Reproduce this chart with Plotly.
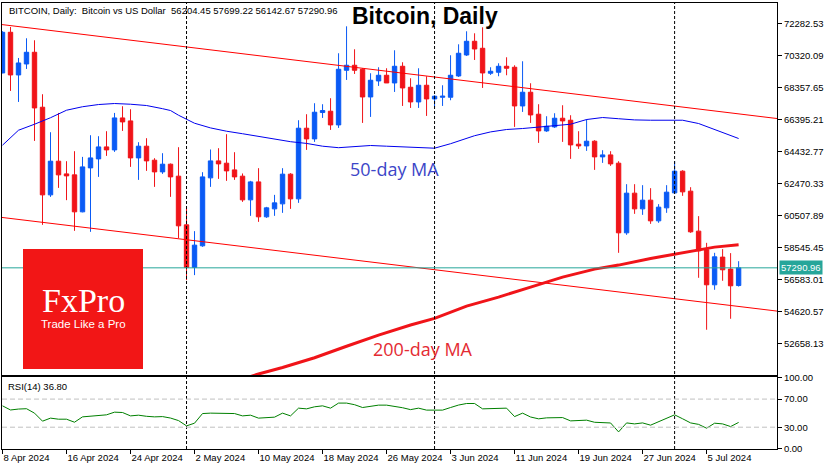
import plotly.graph_objects as go
import pandas as pd

# daily bars 8 Apr 2024 .. 9 Jul 2024 (crypto trades every day)
dates = pd.date_range("2024-04-08", periods=93, freq="D")

opens = [69253, 71749, 69130, 69804, 70522, 67149, 61770, 63837, 63058, 62997,
         60728, 63426, 63978, 64714, 64530, 66492, 66309, 64039, 64757, 63898,
         63181, 63653, 62917, 59930, 57318, 58642, 62813, 63855, 63714, 63303,
         62917, 61463, 62567, 60421, 60911, 61218, 63040, 61525, 65861, 65205,
         66824, 66903, 66063, 69418, 69725, 69479, 67780, 68762, 69111, 68639,
         69663, 68375, 67474, 68498, 67658, 67762, 67762, 69068, 70356, 71197,
         70767, 69234, 69295, 69663, 69602, 67228, 68069, 66719, 65695, 65940,
         66474, 66351, 64879, 64775, 65063, 64101, 64223, 63714, 59440, 61874,
         60911, 61445, 60175, 60973, 61893, 63224, 61997, 59544, 58397, 56250,
         57949, 57213, 56204.45]
highs = [71810, 72074, 70172, 71381, 71258, 67946, 65615, 66799, 63837, 64450,
         64101, 65431, 65370, 65677, 66799, 67210, 67026, 65002, 65247, 64021,
         64328, 63696, 64695, 61034, 59544, 63162, 64555, 64634, 65493, 64389,
         63083, 62629, 63408, 61034, 61770, 63408, 63101, 66351, 66719, 67394,
         67333, 67701, 70461, 72116, 70706, 69541, 69234, 69602, 69541, 70645,
         69909, 68927, 69541, 69050, 67885, 68498, 70338, 71012, 71810, 71687,
         72055, 69602, 69847, 70215, 69725, 69970, 68621, 67333, 66597, 66781,
         67271, 66658, 65677, 66413, 65125, 64511, 64450, 63837, 62426, 62426,
         62365, 62181, 61200, 62365, 63837, 63285, 62242, 60464, 58826, 58213,
         58440, 58195, 57699.22]
lows = [69234, 68149, 67474, 69498, 65082, 59930, 61647, 62199, 61445, 59562,
        60700, 59501, 62874, 64162, 64407, 65695, 63487, 62690, 63242, 62261,
        63058, 61647, 59114, 56539, 56845, 58581, 62261, 62751, 62629, 62690,
        61341, 60482, 60114, 60359, 60482, 60666, 60911, 61279, 64530, 65021,
        66492, 65757, 65879, 68823, 69191, 66186, 66554, 68455, 68639, 68087,
        67228, 67106, 67106, 66615, 67167, 67228, 67578, 69007, 70295, 70050,
        68332, 69130, 69050, 69111, 65940, 66860, 66186, 64959, 65634, 65879,
        65021, 63978, 64591, 64469, 63303, 63733, 63549, 58213, 59317, 60605,
        60543, 59991, 60053, 60666, 61831, 61709, 59440, 56680, 53491, 55944,
        56496, 54165, 56142.67]
closes = [71749, 69130, 69866, 70522, 67106, 61770, 63837, 62997, 62935, 60728,
          63487, 64039, 64714, 64530, 66492, 66247, 64039, 64757, 63855, 63181,
          63653, 62874, 59869, 57318, 58685, 62874, 63855, 63671, 63242, 62874,
          61463, 62567, 60421, 60973, 61279, 63040, 61525, 65861, 65205, 66842,
          66946, 66063, 69479, 69725, 69418, 67780, 68805, 69111, 68639, 69663,
          68332, 67474, 68498, 67658, 67823, 67823, 69111, 70461, 71197, 70724,
          69253, 69357, 69663, 69541, 67228, 68069, 66676, 65695, 65983, 66474,
          66309, 64837, 64775, 65063, 64101, 64223, 63671, 59440, 61874, 60911,
          61445, 60175, 61016, 61936, 63224, 61954, 59501, 58336, 56250, 57968,
          57170, 56189, 57290.96]

rsi14 = [60.4, 54.5, 55.8, 56.3, 50.0, 38.6, 42.9, 41.4, 41.4, 37.1,
         44.7, 46.0, 47.1, 47.6, 51.4, 50.9, 46.1, 47.1, 45.5, 44.7,
         45.1, 43.0, 39.4, 31.9, 35.7, 49.4, 50.0, 50.0, 49.8, 49.4,
         46.1, 47.1, 42.9, 43.5, 44.3, 50.0, 46.1, 57.1, 56.1, 59.0,
         60.4, 57.1, 64.3, 64.3, 62.0, 58.0, 60.0, 61.4, 61.4, 60.0,
         57.7, 55.0, 57.1, 54.3, 54.3, 54.3, 58.0, 61.5, 63.7, 63.7,
         56.1, 56.1, 56.8, 57.1, 45.1, 50.0, 44.5, 41.9, 43.3, 43.5,
         43.7, 39.0, 39.7, 40.0, 37.0, 36.5, 36.0, 23.3, 36.1, 34.7,
         36.1, 32.9, 38.0, 42.9, 47.6, 42.0, 36.1, 34.0, 28.6, 35.7,
         34.7, 30.9, 36.8]

# moving averages, read at the bars listed in *_idx
ma50_idx = [0, 2, 4, 6, 8, 10, 12, 14, 16, 18,
            20, 21, 22, 23, 24, 26, 28, 30, 32, 34,
            36, 38, 40, 42, 44, 46, 48, 50, 52, 54,
            56, 57, 58, 59, 61, 63, 65, 67, 69, 71,
            73, 75, 77, 79, 81, 83, 85, 87, 89, 91, 92]
ma50 = [64818, 65738, 66106, 66505, 66965, 67179, 67314, 67376, 67333, 67253,
        67060, 66946, 66658, 66394, 66167, 65879, 65677, 65523, 65370, 65205,
        65033, 64928, 64757, 64665, 64726, 64800, 64757, 64714, 64634, 64634,
        64910, 65063, 65217, 65401, 65634, 65781, 65842, 65940, 66045, 66106,
        66394, 66517, 66443, 66370, 66351, 66351, 66351, 66149, 65769, 65401, 65229]
ma200_idx = [31, 32, 35, 39, 43, 47, 51, 54, 58, 62, 66, 70, 74, 77, 81, 84, 87, 89, 92]
ma200 = [50620, 50774, 51172, 51773, 52478, 53165, 53779, 54190, 54944, 55496,
         56109, 56723, 57213, 57459, 57869, 58133, 58378, 58562, 58704]

# trend channel, drawn edge to edge
channel_x = ["2024-04-07 22:30", "2024-07-13 19:10"]
channel_upper = [72221, 66456]
channel_lower = [60384, 54637]

last_price = 57290.96
price_ticks = [52658.13, 54620.57, 56583.01, 58545.45, 60507.89, 62470.33,
               64432.77, 66395.21, 68357.65, 70320.09, 72282.53]
rsi_ticks = [0, 30, 70, 100]
rsi_labels = ["0.00", "30.00", "70.00", "100.00"]
date_ticks = pd.date_range("2024-04-08", periods=12, freq="8D")
date_labels = [f"{d.day} {d:%b %Y}" for d in date_ticks]
separators = ["2024-05-01", "2024-06-01", "2024-07-01"]

BLUE = "#0a5af5"
RED = "#f01419"
TEAL = "#26a69a"
FONT = "Liberation Sans, Arial, sans-serif"


def px(x):  # pixel -> paper, plot area is x 2..777, y 3..449
    return (x - 2) / 775


def py(y):
    return (449 - y) / 446


fig = go.Figure()

fig.add_trace(go.Candlestick(
    x=dates, open=opens, high=highs, low=lows, close=closes,
    increasing=dict(line=dict(color=BLUE, width=1), fillcolor=BLUE),
    decreasing=dict(line=dict(color=RED, width=1), fillcolor=RED),
    hoverinfo="skip", xaxis="x", yaxis="y"))

for vals in (channel_upper, channel_lower):
    fig.add_trace(go.Scatter(x=channel_x, y=vals, mode="lines",
                             line=dict(color="#ff0000", width=1),
                             xaxis="x", yaxis="y", hoverinfo="skip"))

fig.add_trace(go.Scatter(x=[dates[i] for i in ma50_idx], y=ma50, mode="lines",
                         line=dict(color="#0000ee", width=1),
                         xaxis="x", yaxis="y", hoverinfo="skip"))
fig.add_trace(go.Scatter(x=[dates[i] for i in ma200_idx], y=ma200, mode="lines",
                         line=dict(color=RED, width=3),
                         xaxis="x", yaxis="y", hoverinfo="skip"))

fig.add_trace(go.Scatter(x=dates, y=rsi14, mode="lines",
                         line=dict(color="#008000", width=1),
                         xaxis="x2", yaxis="y2", hoverinfo="skip"))

shapes = []
for d in separators:
    shapes.append(dict(type="line", xref="x", yref="paper", x0=d, x1=d, y0=0, y1=1,
                       line=dict(color="black", width=1, dash="3px,2px")))
for lvl in (30, 70):
    shapes.append(dict(type="line", xref="x2 domain", yref="y2", x0=0, x1=1, y0=lvl, y1=lvl,
                       line=dict(color="#c0c0c0", width=1, dash="5px,3px")))
shapes.append(dict(type="line", xref="x domain", yref="y", x0=0, x1=1,
                   y0=last_price, y1=last_price, line=dict(color=TEAL, width=1)))
# FxPro logo block
shapes.append(dict(type="rect", xref="paper", yref="paper",
                   x0=px(23), x1=px(143), y0=py(369), y1=py(249),
                   fillcolor="#f21616", line=dict(width=0)))

annotations = [
    dict(text="BITCOIN, Daily:  Bitcoin vs US Dollar  56204.45 57699.22 56142.67 57290.96",
         x=px(7), y=py(10), xanchor="left"),
    dict(text="<b>Bitcoin, Daily</b>", x=px(425), y=py(16),
         font=dict(size=23, family=FONT, color="black")),
    dict(text="50-day MA", x=px(394), y=py(169),
         font=dict(size=18, family="Open Sans", color="#3c46c8")),
    dict(text="200-day MA", x=px(423), y=py(349),
         font=dict(size=18, family="Open Sans", color="#e42b33")),
    dict(text="FxPro", x=px(83), y=py(300),
         font=dict(size=34, family="Liberation Serif, serif", color="white")),
    dict(text="Trade Like a Pro", x=px(83), y=py(323.5),
         font=dict(size=11.5, family=FONT, color="white")),
    dict(text="RSI(14) 36.80", x=px(6), y=py(386), xanchor="left"),
    dict(text="57290.96", xref="paper", yref="y", x=px(779), y=last_price,
         xanchor="left", bgcolor=TEAL, borderpad=1,
         font=dict(color="white", size=9.5, family=FONT)),
]
for a in annotations:
    a.setdefault("xref", "paper")
    a.setdefault("yref", "paper")
    a.setdefault("xanchor", "center")
    a.setdefault("yanchor", "middle")
    a.setdefault("showarrow", False)

axis_common = dict(showline=True, mirror=True, linecolor="black", linewidth=1,
                   showgrid=False, zeroline=False, tickcolor="black",
                   automargin=False)
xrange = [channel_x[0], channel_x[1]]

fig.update_layout(
    width=835, height=470,
    margin=dict(l=2, r=58, t=3, b=21),
    paper_bgcolor="white", plot_bgcolor="white",
    showlegend=False,
    font=dict(family=FONT, size=9.5, color="black"),
    boxgap=0.45, boxgroupgap=0,
    xaxis=dict(axis_common, domain=[0, 1], anchor="y", type="date", range=xrange,
               showticklabels=False, ticks="", rangeslider=dict(visible=False)),
    yaxis=dict(axis_common, domain=[py(375), 1], anchor="x", side="right",
               range=[50714, 73546], tickvals=price_ticks,
               ticktext=[f"{v:.2f}" for v in price_ticks],
               ticks="outside", ticklen=4),
    xaxis2=dict(axis_common, domain=[0, 1], anchor="y2", matches="x", type="date",
                range=xrange, tickvals=list(date_ticks), ticktext=date_labels,
                tickangle=0, ticks="outside", ticklen=4,
                ticklabelposition="outside right"),
    yaxis2=dict(axis_common, domain=[0, py(377)], anchor="x2", side="right",
                range=[-1, 101.4], tickvals=rsi_ticks, ticktext=rsi_labels,
                ticks="outside", ticklen=4),
    shapes=shapes,
    annotations=annotations,
)

fig.write_html("out.html", config={"displayModeBar": False},
               post_script="document.body.style.margin='0';")
